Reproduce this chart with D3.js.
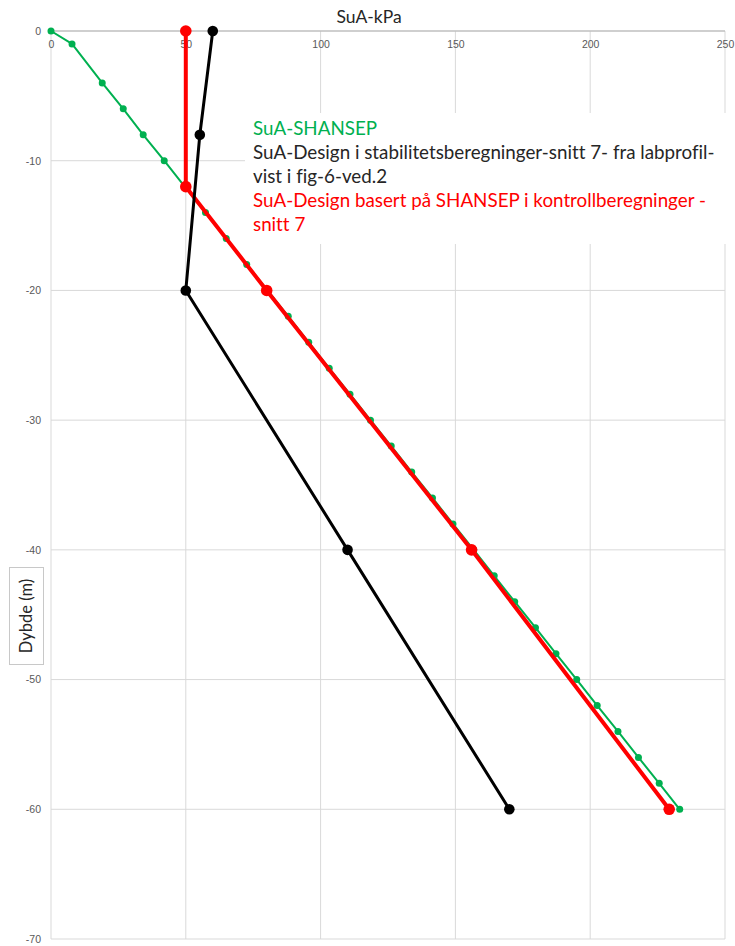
<!DOCTYPE html>
<html>
<head>
<meta charset="utf-8">
<script src="https://cdn.jsdelivr.net/npm/d3@7"></script>
<style>
  body { margin: 0; background: #fff; }
  svg { display: block; font-family: Lato, "Open Sans", sans-serif; font-variant-ligatures: none; }
</style>
</head>
<body>
<div id="chart"></div>
<script>
// SuA-SHANSEP (green)
var shansepDepth = [0, -1, -4, -6, -8, -10, -12, -14, -16, -18, -20, -22, -24, -26, -28, -30,
                    -32, -34, -36, -38, -40, -42, -44, -46, -48, -50, -52, -54, -56, -58, -60];
var shansepSu = [0, 7.8, 19, 26.8, 34.2, 42, 49.6, 57.3, 65, 72.6, 80.3, 88, 95.6, 103.2, 110.9, 118.5,
                 126.2, 133.8, 141.5, 149.1, 156.8, 164.4, 172, 179.7, 187.3, 195, 202.6, 210.3, 217.9, 225.6, 233.2];
// SuA-Design stabilitet (black)
var designDepth = [0, -8, -20, -40, -60];
var designSu = [60, 55.2, 50, 110, 170];
// SuA-Design kontroll (red)
var kontrollDepth = [0, -12, -20, -40, -60];
var kontrollSu = [50, 50, 80, 156, 229.3];

var xTicks = [0, 50, 100, 150, 200, 250];
var yTicks = [0, -10, -20, -30, -40, -50, -60, -70];
var legendLines = [
  {text: "SuA-SHANSEP", color: "#00b050"},
  {text: "SuA-Design i stabilitetsberegninger-snitt 7- fra labprofil-", color: "#262626"},
  {text: "vist i fig-6-ved.2", color: "#262626"},
  {text: "SuA-Design basert på SHANSEP i kontrollberegninger -", color: "#ff0000"},
  {text: "snitt 7", color: "#ff0000"}
];

var W = 735, H = 946;
var margin = {top: 31, right: 10, bottom: 7, left: 51};
var svg = d3.select("#chart").append("svg").attr("width", W).attr("height", H);

var x = d3.scaleLinear().domain([0, 250]).range([margin.left, W - margin.right]);
var y = d3.scaleLinear().domain([0, -70]).range([margin.top, H - margin.bottom]);

// gridlines
var grid = svg.append("g");
grid.selectAll(".vg").data(xTicks).enter().append("line")
  .attr("x1", function(d){ return x(d); }).attr("x2", function(d){ return x(d); })
  .attr("y1", y(0)).attr("y2", y(-70))
  .attr("stroke", "#d9d9d9").attr("stroke-width", 1);
grid.selectAll(".hg").data(yTicks.slice(1)).enter().append("line")
  .attr("x1", x(0)).attr("x2", x(250))
  .attr("y1", function(d){ return y(d); }).attr("y2", function(d){ return y(d); })
  .attr("stroke", "#d9d9d9").attr("stroke-width", 1);

// top axis line (y = 0)
svg.append("line").attr("x1", x(0)).attr("x2", x(250)).attr("y1", y(0)).attr("y2", y(0))
  .attr("stroke", "#bfbfbf").attr("stroke-width", 1.3);

// x axis labels (below the top line)
var xAxis = svg.append("g").attr("transform", "translate(0," + y(0) + ")")
  .call(d3.axisBottom(x).tickValues(xTicks).tickSize(0).tickPadding(10).tickFormat(function(d){ return String(d); }));
xAxis.select(".domain").remove();
xAxis.selectAll("text").attr("fill", "#595959").attr("font-size", 10.5);

// y axis labels
var yAxis = svg.append("g").attr("transform", "translate(" + x(0) + ",0)")
  .call(d3.axisLeft(y).tickValues(yTicks).tickSize(0).tickPadding(10).tickFormat(function(d){ return String(d); }));
yAxis.select(".domain").remove();
yAxis.selectAll("text").attr("fill", "#595959").attr("font-size", 10.5);

// legend box (white, covers grid)
var legend = svg.append("g");
legend.append("rect").attr("x", 245).attr("y", 113).attr("width", 490).attr("height", 131).attr("fill", "#fff");
legend.selectAll("text").data(legendLines).enter().append("text")
  .attr("x", 253)
  .attr("y", function(d, i){ return 135 + i * 24; })
  .attr("fill", function(d){ return d.color; })
  .attr("font-size", 18.8)
  .text(function(d){ return d.text; });

// series
function series(depth, su, color, lw, r) {
  var pts = depth.map(function(d, i){ return [su[i], d]; });
  var g = svg.append("g");
  g.append("path").datum(pts)
    .attr("d", d3.line().x(function(p){ return x(p[0]); }).y(function(p){ return y(p[1]); }))
    .attr("fill", "none").attr("stroke", color).attr("stroke-width", lw)
    .attr("stroke-linejoin", "round");
  g.selectAll("circle").data(pts).enter().append("circle")
    .attr("cx", function(p){ return x(p[0]); })
    .attr("cy", function(p){ return y(p[1]); })
    .attr("r", r).attr("fill", color);
}
series(shansepDepth, shansepSu, "#00b050", 2, 3.5);
series(kontrollDepth, kontrollSu, "#ff0000", 4, 5.8);
series(designDepth, designSu, "#000000", 3, 5.3);

// title
svg.append("text").attr("x", 369).attr("y", 23).attr("text-anchor", "middle")
  .attr("font-size", 17.5).attr("fill", "#262626").text("SuA-kPa");

// y label box
svg.append("rect").attr("x", 9.5).attr("y", 567.5).attr("width", 34).attr("height", 97)
  .attr("fill", "#fff").attr("stroke", "#c8c8c8").attr("stroke-width", 1);
svg.append("text").attr("transform", "translate(32,616) rotate(-90)")
  .attr("text-anchor", "middle").attr("font-size", 16.5).attr("fill", "#262626").text("Dybde (m)");
</script>
</body>
</html>
